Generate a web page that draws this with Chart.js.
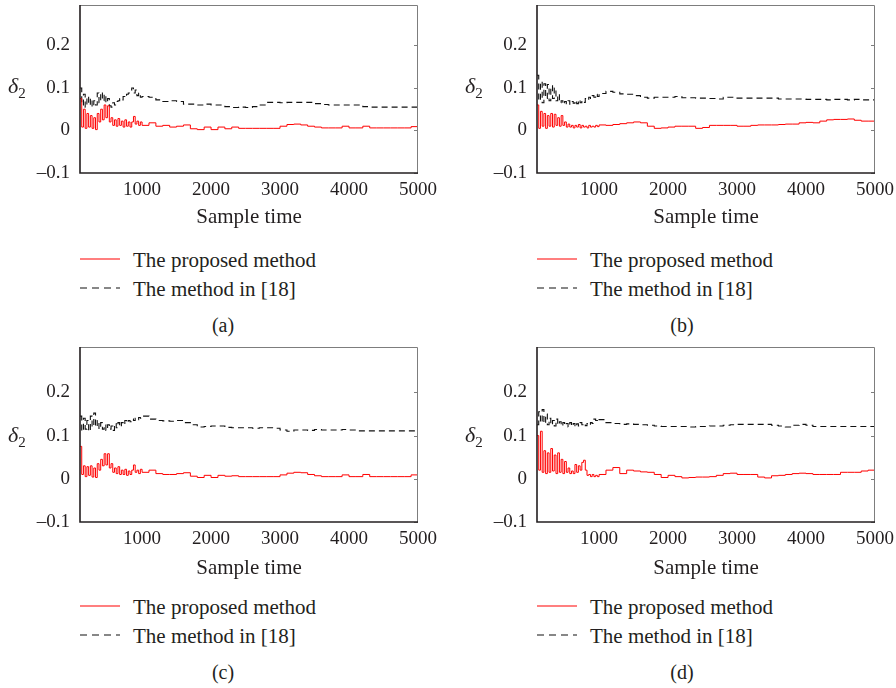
<!DOCTYPE html>
<html>
<head>
<meta charset="utf-8">
<script src="https://cdn.jsdelivr.net/npm/chart.js@4.4.0/dist/chart.umd.min.js"></script>
<style>
  body { margin: 0; background: #fff; }
  #page { position: relative; width: 896px; height: 688px; overflow: hidden;
          font-family: "Liberation Serif", "Times New Roman", Tinos, "Noto Serif", "DejaVu Serif", serif; color: #231f20; }
  .panel { position: absolute; }
  .lbl { position: absolute; white-space: nowrap; font-size: 21px; line-height: 24px; }
  .ytitle { position: absolute; font-size: 22px; line-height: 24px; }
  .ytitle i { font-style: italic; }
  .ytitle sub { font-size: 15px; vertical-align: -5px; line-height: 0; }
  .cap { position: absolute; font-size: 20px; line-height: 24px; transform: translateX(-50%); }
  svg.key { position: absolute; }
</style>
</head>
<body>
<div id="page">
  <canvas id="pa" class="panel" width="448" height="233" style="left:0;top:0"></canvas>
  <canvas id="pb" class="panel" width="448" height="233" style="left:457px;top:0"></canvas>
  <canvas id="pc" class="panel" width="448" height="242" style="left:0;top:342px"></canvas>
  <canvas id="pd" class="panel" width="448" height="242" style="left:457px;top:342px"></canvas>
</div>
<script>
// sample axis: dense at the start, coarser later
var sampleTime = [100, 125, 150, 175, 200, 225, 250, 275, 300, 325, 350, 375, 400, 425, 450, 475,
  500, 525, 550, 575, 600, 625, 650, 675, 700, 725, 750, 775, 800, 825, 850, 875, 900, 925, 950, 975,
  1000, 1100, 1200, 1300, 1400, 1500, 1600, 1700, 1800, 1900, 2000, 2100, 2200, 2300, 2400, 2500,
  2600, 2700, 2800, 2900, 3000, 3100, 3200, 3300, 3400, 3500, 3600, 3700, 3800, 3900, 4000, 4100,
  4200, 4300, 4400, 4500, 4600, 4700, 4800, 4900, 5000];

var xTicks = [1000, 2000, 3000, 4000, 5000];
var yTicks = [-0.1, 0, 0.1, 0.2];
var seriesNames = ['The proposed method', 'The method in [18]'];
var captions = ['(a)', '(b)', '(c)', '(d)'];

// (a)
var proposedA = [0.075, 0.008, 0.05, 0.005, 0.04, 0.008, 0.035, 0.005, 0.03, 0.002, 0.04, 0.02, 0.05, 0.025, 0.06, 0.03,
  0.058, 0.02, 0.03, 0.012, 0.025, 0.01, 0.028, 0.012, 0.022, 0.008, 0.025, 0.01, 0.02, 0.008, 0.02, 0.033, 0.015, 0.022, 0.012, 0.02,
  0.012, 0.018, 0.01, 0.012, 0.008, 0.01, 0.013, 0.004, 0.002, 0.008, 0.002, 0.008, 0.004, 0.008, 0.005, 0.005,
  0.005, 0.005, 0.005, 0.005, 0.01, 0.014, 0.015, 0.013, 0.01, 0.008, 0.006, 0.006, 0.006, 0.01, 0.006, 0.006,
  0.01, 0.006, 0.006, 0.006, 0.006, 0.006, 0.006, 0.009, 0.01];
var methodA = [0.1, 0.06, 0.085, 0.055, 0.08, 0.06, 0.075, 0.055, 0.07, 0.06, 0.088, 0.065, 0.09, 0.07, 0.085, 0.065,
  0.075, 0.058, 0.055, 0.065, 0.06, 0.068, 0.07, 0.075, 0.072, 0.08, 0.078, 0.085, 0.088, 0.095, 0.1, 0.088, 0.095, 0.082, 0.088, 0.078,
  0.08, 0.078, 0.072, 0.068, 0.07, 0.068, 0.062, 0.062, 0.06, 0.062, 0.06, 0.06, 0.056, 0.054, 0.055, 0.054,
  0.056, 0.06, 0.066, 0.066, 0.065, 0.066, 0.066, 0.066, 0.066, 0.063, 0.061, 0.06, 0.06, 0.06, 0.06, 0.06,
  0.056, 0.055, 0.055, 0.055, 0.055, 0.055, 0.055, 0.055, 0.058];

// (b)
var proposedB = [0.06, 0.005, 0.045, 0.01, 0.04, 0.005, 0.035, 0.01, 0.04, 0.008, 0.038, 0.012, 0.03, 0.01, 0.035, 0.012,
  0.02, 0.008, 0.015, 0.008, 0.012, 0.006, 0.012, 0.008, 0.014, 0.006, 0.012, 0.008, 0.01, 0.006, 0.012, 0.008, 0.01, 0.008, 0.012, 0.009,
  0.013, 0.012, 0.014, 0.016, 0.018, 0.02, 0.018, 0.01, 0.005, 0.006, 0.008, 0.01, 0.01, 0.01, 0.005, 0.007,
  0.012, 0.012, 0.012, 0.012, 0.01, 0.01, 0.012, 0.013, 0.013, 0.013, 0.014, 0.015, 0.015, 0.018, 0.019, 0.018,
  0.022, 0.025, 0.026, 0.026, 0.027, 0.024, 0.022, 0.022, 0.022];
var methodB = [0.13, 0.07, 0.115, 0.065, 0.11, 0.075, 0.108, 0.07, 0.105, 0.075, 0.1, 0.07, 0.085, 0.065, 0.07, 0.062,
  0.068, 0.063, 0.07, 0.062, 0.068, 0.064, 0.07, 0.063, 0.072, 0.065, 0.07, 0.066, 0.075, 0.072, 0.078, 0.075, 0.082, 0.078, 0.085, 0.08,
  0.087, 0.092, 0.09, 0.086, 0.085, 0.082, 0.078, 0.076, 0.078, 0.078, 0.078, 0.08, 0.077, 0.077, 0.076, 0.076,
  0.075, 0.074, 0.078, 0.078, 0.076, 0.076, 0.076, 0.076, 0.076, 0.076, 0.074, 0.074, 0.074, 0.074, 0.073, 0.073,
  0.073, 0.072, 0.073, 0.073, 0.072, 0.073, 0.072, 0.072, 0.075];

// (c)
var proposedC = [0.075, 0.01, 0.03, 0.005, 0.028, 0.008, 0.03, 0.004, 0.025, 0.003, 0.035, 0.02, 0.045, 0.03, 0.058, 0.032,
  0.058, 0.025, 0.035, 0.015, 0.025, 0.012, 0.028, 0.01, 0.02, 0.01, 0.022, 0.008, 0.018, 0.01, 0.02, 0.032, 0.015, 0.02, 0.012, 0.022,
  0.015, 0.02, 0.012, 0.01, 0.01, 0.012, 0.014, 0.006, 0.003, 0.008, 0.003, 0.008, 0.006, 0.007, 0.005, 0.005,
  0.005, 0.005, 0.005, 0.005, 0.009, 0.013, 0.015, 0.014, 0.01, 0.007, 0.005, 0.005, 0.005, 0.009, 0.005, 0.005,
  0.01, 0.005, 0.005, 0.005, 0.005, 0.005, 0.005, 0.009, 0.01];
var methodC = [0.145, 0.11, 0.14, 0.115, 0.135, 0.11, 0.145, 0.12, 0.152, 0.12, 0.135, 0.115, 0.13, 0.115, 0.125, 0.112,
  0.125, 0.115, 0.122, 0.112, 0.128, 0.118, 0.13, 0.12, 0.13, 0.125, 0.135, 0.13, 0.135, 0.132, 0.138, 0.135, 0.14, 0.137, 0.142, 0.14,
  0.145, 0.138, 0.135, 0.134, 0.133, 0.135, 0.13, 0.125, 0.12, 0.121, 0.122, 0.122, 0.119, 0.118, 0.118, 0.118,
  0.117, 0.118, 0.118, 0.117, 0.113, 0.11, 0.113, 0.113, 0.112, 0.114, 0.113, 0.113, 0.113, 0.114, 0.113, 0.111,
  0.111, 0.111, 0.111, 0.111, 0.111, 0.111, 0.111, 0.111, 0.11];

// (d)
var proposedD = [0.1, 0.02, 0.11, 0.015, 0.065, 0.012, 0.06, 0.015, 0.07, 0.018, 0.055, 0.012, 0.06, 0.015, 0.045, 0.012,
  0.04, 0.015, 0.025, 0.012, 0.018, 0.012, 0.033, 0.015, 0.03, 0.02, 0.038, 0.043, 0.02, 0.008, 0.01, 0.005, 0.01, 0.005, 0.008, 0.005,
  0.01, 0.02, 0.026, 0.012, 0.02, 0.018, 0.016, 0.015, 0.01, 0.003, 0.008, 0.005, 0.002, 0.003, 0.004, 0.004,
  0.005, 0.008, 0.012, 0.013, 0.01, 0.01, 0.01, 0.004, 0.002, 0.007, 0.008, 0.01, 0.012, 0.013, 0.012, 0.01,
  0.01, 0.01, 0.01, 0.015, 0.015, 0.015, 0.018, 0.02, 0.02];
var methodD = [0.125, 0.155, 0.13, 0.16, 0.128, 0.15, 0.125, 0.14, 0.125, 0.135, 0.122, 0.138, 0.125, 0.132, 0.122, 0.13,
  0.124, 0.128, 0.12, 0.13, 0.122, 0.128, 0.12, 0.127, 0.122, 0.13, 0.125, 0.128, 0.123, 0.128, 0.125, 0.13, 0.128, 0.138, 0.135, 0.14,
  0.137, 0.13, 0.128, 0.126, 0.127, 0.126, 0.125, 0.124, 0.122, 0.121, 0.121, 0.121, 0.121, 0.12, 0.121, 0.121,
  0.122, 0.122, 0.124, 0.125, 0.126, 0.126, 0.126, 0.126, 0.126, 0.124, 0.122, 0.12, 0.124, 0.126, 0.124, 0.121,
  0.121, 0.121, 0.121, 0.121, 0.121, 0.121, 0.121, 0.121, 0.121];

Chart.defaults.font.family = '"Liberation Serif", "Times New Roman", Tinos, "Noto Serif", "DejaVu Serif", serif';
Chart.defaults.color = '#231f20';

// box round the plot with small inward ticks (matlab look)
var framePlugin = {
  id: 'frame',
  afterDraw: function(chart) {
    var a = chart.chartArea, ctx = chart.ctx;
    var ys = chart.scales.y;
    ctx.save();
    ctx.strokeStyle = '#7d7d7d';
    ctx.lineWidth = 1;
    ctx.beginPath();
    ctx.moveTo(a.left, a.top + 0.5);
    ctx.lineTo(a.right - 0.5, a.top + 0.5);
    ctx.lineTo(a.right - 0.5, a.bottom);
    ys.ticks.forEach(function(t) {
      var py = Math.round(ys.getPixelForValue(t.value)) + 0.5;
      ctx.moveTo(a.right - 4, py);
      ctx.lineTo(a.right, py);
    });
    ctx.stroke();
    ctx.strokeStyle = '#231f20';
    ctx.lineWidth = 1.6;
    ctx.beginPath();
    ctx.moveTo(a.left, a.top);
    ctx.lineTo(a.left, a.bottom);
    ctx.lineTo(a.right, a.bottom);
    ctx.stroke();
    ctx.restore();
  }
};

function pairs(ys) {
  var out = [];
  for (var i = 0; i < sampleTime.length; i++) out.push({x: sampleTime[i], y: ys[i]});
  return out;
}

var make_panel = function(id, proposed, method, ymax, axisH) {
  return new Chart(document.getElementById(id), {
    type: 'line',
    data: {
      datasets: [{
        label: seriesNames[0],
        data: pairs(proposed),
        borderColor: '#ff0000',
        borderWidth: 1,
        stepped: true,
        pointRadius: 0,
        fill: false
      }, {
        label: seriesNames[1],
        data: pairs(method),
        borderColor: '#111111',
        borderWidth: 1.1,
        borderDash: [6, 4],
        stepped: true,
        pointRadius: 0,
        fill: false
      }]
    },
    options: {
      responsive: false,
      animation: false,
      events: [],
      layout: { padding: { top: 5, right: 30, left: 0, bottom: 0 } },
      plugins: { legend: { display: false }, tooltip: { enabled: false } },
      scales: {
        x: {
          type: 'linear', min: 100, max: 5000,
          grid: { display: false, drawTicks: false },
          border: { display: false },
          afterBuildTicks: function(s) { s.ticks = xTicks.map(function(v) { return {value: v}; }); },
          afterFit: function(s) { s.height = axisH; s.paddingLeft = 0; s.paddingRight = 0; },
          ticks: { font: { size: 19 }, padding: 6, maxRotation: 0,
                   callback: function(v) { return String(v); } },
          title: { display: true, text: 'Sample time', font: { size: 21 }, padding: { top: 0, bottom: 3 } }
        },
        y: {
          min: -0.1, max: ymax,
          grid: { display: false, drawTicks: false },
          border: { display: false },
          afterBuildTicks: function(s) { s.ticks = yTicks.map(function(v) { return {value: v}; }); },
          afterFit: function(s) { s.width = 80; s.paddingTop = 0; s.paddingBottom = 0; },
          ticks: {
            font: { size: 19 }, padding: 10,
            callback: function(v) {
              if (v === 0) return '0';
              return v < 0 ? '\u2013' + Math.abs(v).toFixed(1) : v.toFixed(1);
            }
          }
        }
      }
    },
    plugins: [framePlugin]
  });
};

make_panel('pa', proposedA, methodA, 0.295, 60);
make_panel('pb', proposedB, methodB, 0.295, 60);
make_panel('pc', proposedC, methodC, 0.305, 62);
make_panel('pd', proposedD, methodD, 0.305, 62);

// legends, captions and the y titles as html text
var page = document.getElementById('page');
var spots = [
  {x: 80, y: 0, cap: 223, t: 74},
  {x: 537, y: 0, cap: 682, t: 74},
  {x: 80, y: 347, cap: 223, t: 76},
  {x: 537, y: 347, cap: 682, t: 76}
];
spots.forEach(function(p, i) {
  var html = '';
  html += '<div class="ytitle" style="left:' + (p.x - 72) + 'px;top:' + (p.y + p.t) + 'px"><i>\u03b4</i><sub>2</sub></div>';
  html += '<svg class="key" width="42" height="4" style="left:' + p.x + 'px;top:' + (p.y + 257) + 'px">' +
          '<line x1="0" y1="2" x2="40" y2="2" stroke="#ff0000" stroke-width="1.2"/></svg>';
  html += '<svg class="key" width="42" height="4" style="left:' + p.x + 'px;top:' + (p.y + 286) + 'px">' +
          '<line x1="0" y1="2" x2="40" y2="2" stroke="#111" stroke-width="1.2" stroke-dasharray="7 5"/></svg>';
  html += '<div class="lbl" style="left:' + (p.x + 53) + 'px;top:' + (p.y + 248) + 'px">' + seriesNames[0] + '</div>';
  html += '<div class="lbl" style="left:' + (p.x + 53) + 'px;top:' + (p.y + 277) + 'px">' + seriesNames[1] + '</div>';
  html += '<div class="cap" style="left:' + p.cap + 'px;top:' + (p.y + 313) + 'px">' + captions[i] + '</div>';
  page.insertAdjacentHTML('beforeend', html);
});
</script>
</body>
</html>
